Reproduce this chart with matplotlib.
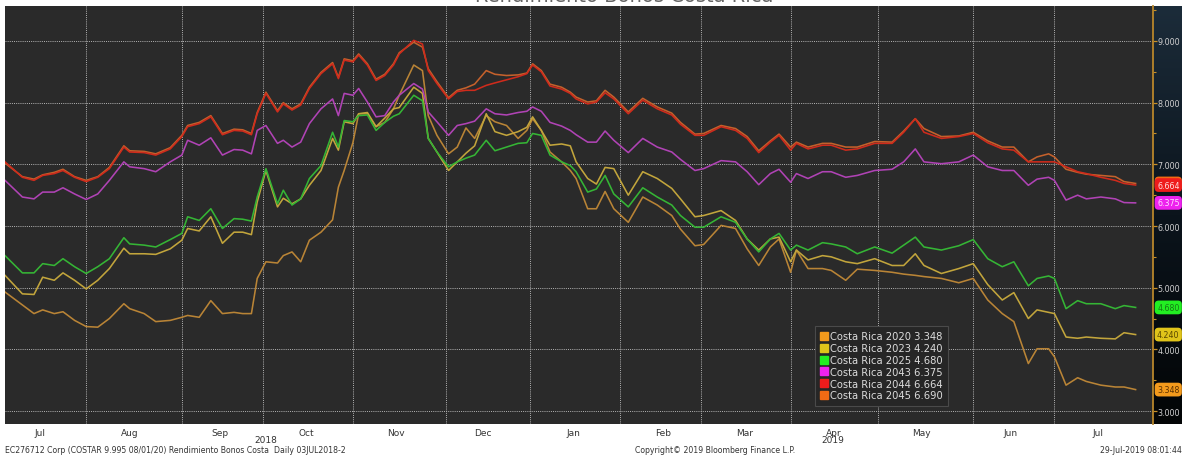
import numpy as np
import pandas as pd
import matplotlib
matplotlib.use('Agg')
import matplotlib.pyplot as plt
import matplotlib.dates as mdates
import matplotlib.transforms as mtransforms
from matplotlib.lines import Line2D
from matplotlib.ticker import MultipleLocator, FormatStrFormatter
from matplotlib.colors import LinearSegmentedColormap

# ---------------- data ----------------
start_date = '2018-07-03'
day_offsets = [1, 7, 11, 14, 18, 21, 25, 29, 33, 37, 42, 44, 49, 53, 58, 62, 64, 68, 72, 76,
               80, 83, 86, 88, 91, 95, 97, 100, 103, 106, 110, 114, 116, 118, 121, 123, 126, 129, 132, 135,
               137, 142, 145, 147, 150, 154, 157, 160, 163, 167, 170, 174, 178, 181, 183, 186, 189, 193,
               196, 198, 202, 205, 208, 211, 216, 221, 226, 231, 234, 239, 242, 248, 253, 257, 261, 265,
               268, 272, 274, 278, 283, 286, 291, 295, 301, 307, 311, 315, 318, 324, 330, 335, 340, 345,
               349, 354, 357, 361, 363, 367, 371, 374, 379, 384, 387, 391]

cr2020 = [4.93, 4.72, 4.58, 4.64, 4.58, 4.61, 4.47, 4.37, 4.36, 4.50, 4.74, 4.66, 4.58, 4.45, 4.47, 4.52, 4.55, 4.52, 4.79, 4.58,
          4.60, 4.58, 4.58, 5.15, 5.42, 5.40, 5.52, 5.58, 5.42, 5.77, 5.90, 6.10, 6.63, 6.90, 7.35, 7.82, 7.82, 7.61, 7.68, 7.90,
          8.12, 8.61, 8.52, 7.79, 7.47, 7.17, 7.28, 7.59, 7.42, 7.79, 7.69, 7.63, 7.42, 7.55, 7.74, 7.55, 7.20, 7.04, 6.90, 6.77,
          6.28, 6.28, 6.56, 6.28, 6.06, 6.47, 6.34, 6.17, 5.95, 5.68, 5.70, 6.01, 5.96, 5.63, 5.36, 5.66,
          5.79, 5.25, 5.61, 5.31, 5.31, 5.28, 5.12, 5.30, 5.28, 5.25, 5.22, 5.20, 5.18, 5.15, 5.08, 5.15, 4.80, 4.58, 4.45, 3.77,
          4.01, 4.01, 3.88, 3.42, 3.54, 3.48, 3.42, 3.39, 3.39, 3.348]

cr2023 = [5.20, 4.90, 4.89, 5.17, 5.12, 5.24, 5.12, 4.98, 5.12, 5.31, 5.64, 5.55, 5.55, 5.54, 5.63, 5.77, 5.96, 5.92, 6.15, 5.72,
          5.90, 5.90, 5.86, 6.39, 6.90, 6.31, 6.45, 6.36, 6.44, 6.66, 6.90, 7.42, 7.23, 7.69, 7.66, 7.82, 7.84, 7.61, 7.75, 7.90,
          7.92, 8.25, 8.15, 7.42, 7.20, 6.90, 7.04, 7.18, 7.30, 7.82, 7.53, 7.47, 7.53, 7.60, 7.77, 7.55, 7.31, 7.33, 7.30, 7.04,
          6.77, 6.68, 6.95, 6.93, 6.50, 6.88, 6.77, 6.61, 6.44, 6.15, 6.17, 6.25, 6.09, 5.79, 5.61, 5.79,
          5.82, 5.42, 5.61, 5.45, 5.52, 5.50, 5.42, 5.39, 5.47, 5.36, 5.36, 5.55, 5.36, 5.23, 5.31, 5.39, 5.05, 4.80, 4.92, 4.50,
          4.64, 4.60, 4.58, 4.20, 4.18, 4.20, 4.18, 4.17, 4.27, 4.24]

cr2025 = [5.52, 5.24, 5.24, 5.39, 5.36, 5.47, 5.34, 5.23, 5.34, 5.47, 5.81, 5.71, 5.69, 5.66, 5.78, 5.88, 6.15, 6.09, 6.28, 5.96,
          6.12, 6.11, 6.08, 6.47, 6.93, 6.36, 6.58, 6.34, 6.44, 6.77, 6.98, 7.52, 7.28, 7.71, 7.69, 7.79, 7.80, 7.55, 7.68, 7.78,
          7.82, 8.12, 8.03, 7.42, 7.20, 6.96, 7.04, 7.10, 7.15, 7.39, 7.22, 7.28, 7.34, 7.35, 7.50, 7.47, 7.15, 7.04, 6.98, 6.88,
          6.55, 6.60, 6.82, 6.52, 6.31, 6.62, 6.47, 6.34, 6.17, 5.98, 5.98, 6.15, 6.06, 5.79, 5.58, 5.79,
          5.88, 5.61, 5.69, 5.61, 5.73, 5.71, 5.66, 5.55, 5.66, 5.56, 5.69, 5.82, 5.66, 5.61, 5.68, 5.78, 5.47, 5.34, 5.42, 5.03,
          5.15, 5.19, 5.15, 4.66, 4.79, 4.74, 4.74, 4.66, 4.71, 4.68]

cr2043 = [6.74, 6.47, 6.44, 6.55, 6.55, 6.62, 6.52, 6.43, 6.52, 6.74, 7.04, 6.96, 6.93, 6.88, 7.04, 7.15, 7.39, 7.31, 7.43, 7.15,
          7.24, 7.23, 7.17, 7.55, 7.63, 7.34, 7.39, 7.28, 7.36, 7.66, 7.90, 8.06, 7.79, 8.15, 8.12, 8.23, 8.01, 7.77, 7.79, 8.01,
          8.12, 8.31, 8.22, 7.85, 7.69, 7.47, 7.63, 7.66, 7.70, 7.90, 7.82, 7.80, 7.84, 7.86, 7.93, 7.86, 7.68, 7.62, 7.55, 7.48,
          7.36, 7.36, 7.54, 7.39, 7.19, 7.42, 7.28, 7.20, 7.08, 6.90, 6.93, 7.06, 7.04, 6.88, 6.67, 6.85,
          6.92, 6.71, 6.85, 6.77, 6.88, 6.88, 6.79, 6.82, 6.90, 6.92, 7.04, 7.25, 7.04, 7.01, 7.04, 7.15, 6.96, 6.90, 6.90, 6.66,
          6.76, 6.79, 6.74, 6.42, 6.50, 6.44, 6.47, 6.44, 6.38, 6.375]

cr2044 = [7.04, 6.79, 6.74, 6.82, 6.85, 6.90, 6.79, 6.72, 6.79, 6.93, 7.28, 7.20, 7.19, 7.15, 7.25, 7.45, 7.61, 7.66, 7.77, 7.48,
          7.55, 7.54, 7.48, 7.82, 8.15, 7.85, 7.98, 7.88, 7.96, 8.23, 8.47, 8.63, 8.39, 8.69, 8.66, 8.77, 8.61, 8.36, 8.44, 8.61,
          8.79, 9.01, 8.95, 8.52, 8.31, 8.06, 8.18, 8.20, 8.20, 8.28, 8.32, 8.37, 8.42, 8.47, 8.61, 8.50, 8.27, 8.22, 8.15, 8.06,
          7.98, 8.01, 8.16, 8.06, 7.82, 8.04, 7.90, 7.80, 7.65, 7.47, 7.47, 7.61, 7.55, 7.42, 7.19, 7.36,
          7.47, 7.23, 7.34, 7.25, 7.31, 7.31, 7.23, 7.25, 7.34, 7.34, 7.52, 7.74, 7.52, 7.42, 7.45, 7.50, 7.35, 7.25, 7.23, 7.04,
          7.04, 7.04, 7.04, 6.96, 6.88, 6.85, 6.79, 6.74, 6.69, 6.664]

cr2045 = [7.02, 6.80, 6.76, 6.83, 6.87, 6.92, 6.80, 6.74, 6.80, 6.95, 7.30, 7.22, 7.21, 7.17, 7.27, 7.47, 7.63, 7.68, 7.79, 7.50,
          7.57, 7.56, 7.50, 7.84, 8.17, 7.87, 8.00, 7.90, 7.98, 8.25, 8.49, 8.65, 8.41, 8.71, 8.68, 8.79, 8.63, 8.38, 8.46, 8.63,
          8.81, 8.98, 8.90, 8.55, 8.34, 8.08, 8.20, 8.24, 8.30, 8.52, 8.46, 8.44, 8.45, 8.48, 8.63, 8.52, 8.30, 8.25, 8.17, 8.09,
          8.01, 8.03, 8.20, 8.09, 7.85, 8.07, 7.93, 7.83, 7.68, 7.49, 7.50, 7.63, 7.58, 7.45, 7.22, 7.38,
          7.49, 7.28, 7.36, 7.28, 7.34, 7.34, 7.28, 7.28, 7.37, 7.36, 7.54, 7.74, 7.58, 7.45, 7.46, 7.52, 7.38, 7.28, 7.28, 7.04,
          7.12, 7.17, 7.12, 6.92, 6.87, 6.84, 6.82, 6.80, 6.72, 6.69]

series_labels = ['Costa Rica 2020', 'Costa Rica 2023', 'Costa Rica 2025',
                 'Costa Rica 2043', 'Costa Rica 2044', 'Costa Rica 2045']
last_values = [3.348, 4.240, 4.680, 6.375, 6.664, 6.690]
y_ticks = [3, 4, 5, 6, 7, 8, 9]

title_text = 'Rendimiento Bonos Costa Rica'
footer_left = 'EC276712 Corp (COSTAR 9.995 08/01/20) Rendimiento Bonos Costa  Daily 03JUL2018-2'
footer_mid = 'Copyright\u00a9 2019 Bloomberg Finance L.P.'
footer_right = '29-Jul-2019 08:01:44'

# ---------------- styles ----------------
line_colors = ['#b98436', '#c2a53c', '#35b535', '#b043b5', '#cf2b1c', '#c4612c']
legend_colors = ['#f39a1c', '#e0c41a', '#22ee22', '#ee22ee', '#ee1c1c', '#f06a14']
badge_text_colors = ['#5a3000', '#5a4800', '#157a15', '#ffe0ff', '#ffe0e0', '#ffe0d0']

W, H = 1182, 456
fig = plt.figure(figsize=(W / 100, H / 100), dpi=100)
fig.patch.set_facecolor('white')

x0, x1 = 5, 1153
y_top, y_bot = 7, 425

# right strip with gradient
strip = fig.add_axes([x1 / W, 1 - y_bot / H, (W - x1) / W, (y_bot - y_top) / H], zorder=0)
grad = np.linspace(0, 1, 256).reshape(-1, 1)
cmap = LinearSegmentedColormap.from_list('strip', ['#1c2c3a', '#0b141c', '#030506'])
strip.imshow(grad, aspect='auto', cmap=cmap, extent=[0, 1, 0, 1])
strip.set_axis_off()

ax = fig.add_axes([x0 / W, 1 - y_bot / H, (x1 - x0) / W, (y_bot - y_top) / H], zorder=1)
ax.set_facecolor('#2a2a2a')

dates = pd.Timestamp(start_date) + pd.to_timedelta(day_offsets, unit='D')
all_series = [cr2020, cr2023, cr2025, cr2043, cr2045, cr2044]
order_idx = [0, 1, 2, 3, 5, 4]
for s, i in zip(all_series, order_idx):
    ax.plot(dates, s, color=line_colors[i], lw=1.15, zorder=3)

xmin = pd.Timestamp(start_date) + pd.Timedelta(days=1)
xmax = pd.Timestamp('2019-08-04')
ax.set_xlim(xmin, xmax)
ax.set_ylim(2.79, 9.567)

# y axis on the right
ax.yaxis.tick_right()
ax.set_yticks(y_ticks)
ax.yaxis.set_major_formatter(FormatStrFormatter('%.3f'))
ax.yaxis.set_minor_locator(MultipleLocator(0.5))
ax.tick_params(axis='y', which='major', color='#c8902a', labelcolor='#cfcfcf',
               length=3, width=0.9, pad=0.5, labelsize=5.8)
ax.tick_params(axis='y', which='minor', color='#c8902a', length=2, width=0.8)

# x axis: gridlines at month starts, labels at mid-month
month_starts = pd.date_range('2018-08-01', '2019-07-31', freq='BMS')
mid_months = pd.date_range('2018-07-01', '2019-07-31', freq='MS') + pd.Timedelta(days=15)
ax.set_xticks(month_starts)
ax.set_xticklabels([])
ax.set_xticks(mid_months, minor=True)
ax.xaxis.set_minor_formatter(mdates.DateFormatter('%b'))
ax.tick_params(axis='x', which='both', length=0, pad=3, labelsize=6.5, labelcolor='#333333')

ax.grid(which='major', axis='both', color='#b5b5b5', linestyle=(0, (1, 1.2)), linewidth=0.7, zorder=1)

for sp in ['top', 'left', 'bottom']:
    ax.spines[sp].set_visible(False)
ax.spines['right'].set_color('#b8862b')
ax.spines['right'].set_linewidth(1.3)

# year labels
blend = mtransforms.blended_transform_factory(ax.transData, ax.transAxes)
yr2018_mid = pd.Timestamp(xmin) + (pd.Timestamp('2018-12-31') - pd.Timestamp(xmin)) / 2
yr2019_mid = pd.Timestamp('2019-01-01') + (pd.Timestamp('2019-07-29') - pd.Timestamp('2019-01-01')) / 2
ax.text(yr2018_mid, -0.038, '2018', transform=blend, ha='center', va='center',
        fontsize=6.5, color='#333333')
ax.text(yr2019_mid, -0.038, '2019', transform=blend, ha='center', va='center',
        fontsize=6.5, color='#333333')

# value badges on the right strip
ytrans = ax.get_yaxis_transform()
badge_order = [5, 4, 3, 2, 1, 0]
for i in badge_order:
    v = last_values[i]
    ax.annotate(f'{v:.3f}', xy=(1, v), xycoords=ytrans, xytext=(11.0, 0),
                textcoords='offset points', ha='center', va='center', fontsize=5.7,
                color=badge_text_colors[i], annotation_clip=False, zorder=6,
                bbox=dict(boxstyle='round,pad=0.3,rounding_size=0.5', fc=legend_colors[i], ec='none'))

# legend
handles = [Line2D([0], [0], marker='s', linestyle='none', markersize=5.5,
                  markerfacecolor=c, markeredgecolor=c) for c in legend_colors]
labels = [f'{n} {v:.3f}' for n, v in zip(series_labels, last_values)]
leg = ax.legend(handles, labels, loc='upper left',
                bbox_to_anchor=((815 - x0) / (x1 - x0), 1 - (327 - y_top) / (y_bot - y_top)),
                borderaxespad=0, fontsize=7.2, labelcolor='#dcdcdc', frameon=True,
                fancybox=False, handlelength=0.7, handletextpad=0.2, labelspacing=0.18,
                borderpad=0.55)
leg.get_frame().set_facecolor('#262626')
leg.get_frame().set_edgecolor('#4a4a4a')
leg.get_frame().set_linewidth(0.8)
leg.get_frame().set_alpha(1)
leg.set_zorder(7)

# title (mostly cut off at the top, as in the source image)
fig.text(624 / W, 1 - 1.5 / H, title_text, ha='center', va='baseline', fontsize=14, color='#666666')

# footer
fy = 1 - 451 / H
fig.text(5 / W, fy, footer_left, ha='left', va='center', fontsize=5.6, color='#333333')
fig.text(715 / W, fy, footer_mid, ha='center', va='center', fontsize=5.6, color='#333333')
fig.text(1, fy, footer_right, ha='right', va='center', fontsize=5.6, color='#333333')

fig.savefig('out.png', dpi=100, facecolor='white')
